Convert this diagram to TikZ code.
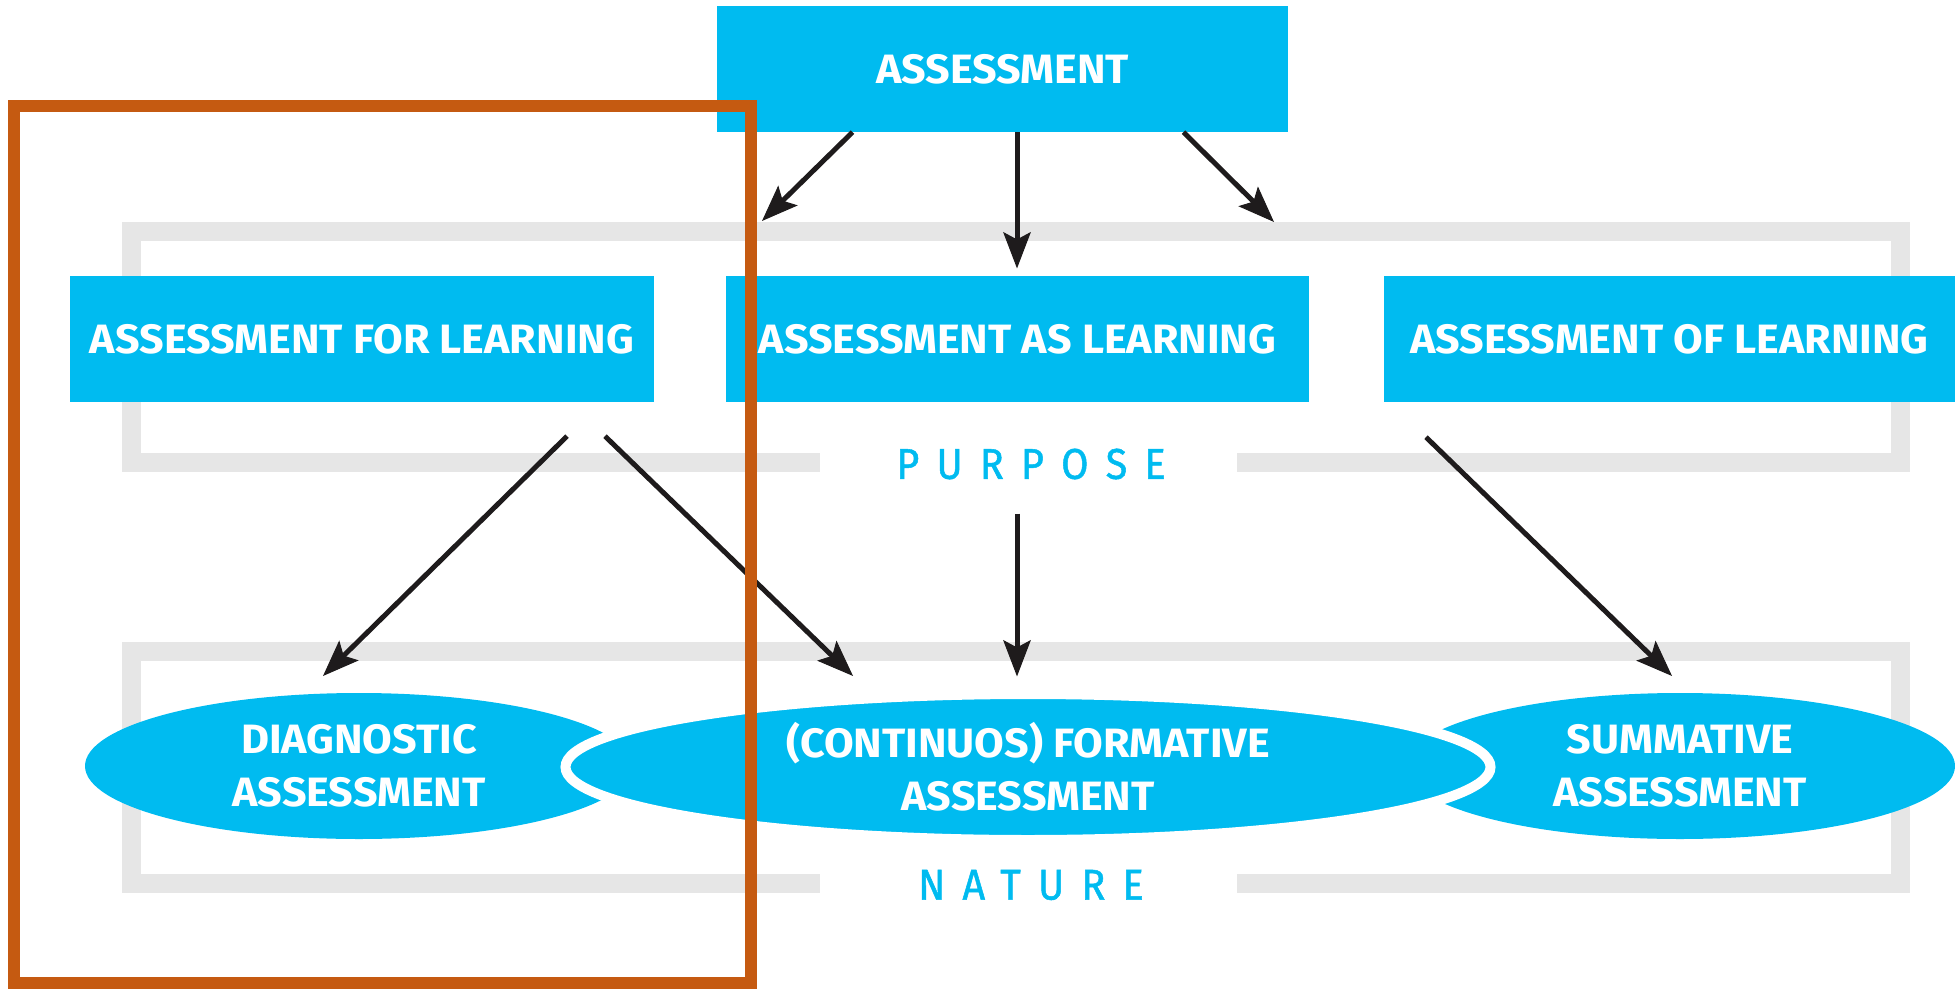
\documentclass[tikz,border=0pt]{standalone}
\usepackage{fontspec}
\setmainfont{Fira Sans}
\newfontfamily\boxfont[FakeStretch=1.05]{Fira Sans Bold}
\newfontfamily\tagfont[LetterSpace=40,FakeBold=1.2,FakeStretch=0.92]{Fira Sans}
\usetikzlibrary{shapes.geometric,calc}
\definecolor{skyblue}{RGB}{0,187,240}
\definecolor{framegray}{RGB}{230,230,230}
\definecolor{rust}{RGB}{197,90,17}
\definecolor{ink}{RGB}{30,27,28}
\tikzset{
  bluebox/.style={rectangle, fill=skyblue, inner sep=0pt, text=white,
    font=\boxfont\fontsize{41}{53}\selectfont, align=center},
  blueoval/.style={ellipse, fill=skyblue, inner sep=0pt, text=white,
    font=\boxfont\fontsize{41}{53}\selectfont, align=center},
  tagtext/.style={text=skyblue, font=\tagfont\fontsize{43}{50}\selectfont, inner sep=0pt},
  framestroke/.style={draw=framegray, line width=19pt},
  shaft/.style={draw=ink, line width=5pt},
}
% connector from #1 to #2 with a filled stealth-like head at #2
\newcommand\connto[2]{%
  \path ($(#2)!34pt!(#1)$) coordinate (hb) ($(#2)!27pt!(#1)$) coordinate (hi);
  \draw[shaft] (#1) -- (hi);
  \filldraw[ink, line width=1pt, line join=miter] (#2) -- ($(hb)!13pt!90:(#2)$) -- (hi) -- ($(hb)!13pt!-90:(#2)$) -- cycle;
}
\begin{document}
\begin{tikzpicture}[x=1pt, y=1pt]
\useasboundingbox (0,0) rectangle (1955,-990);

% grey frames, each open at the bottom around its caption
\draw[framestroke] (820,-462) -- (131.5,-462) -- (131.5,-231.5) -- (1900.5,-231.5) -- (1900.5,-462) -- (1237,-462);
\draw[framestroke] (820,-883.5) -- (131.5,-883.5) -- (131.5,-651.5) -- (1900.5,-651.5) -- (1900.5,-883.5) -- (1237,-883.5);

% top and purpose boxes
\node[bluebox, minimum width=571pt, minimum height=126pt] (top) at (1002.5,-69) {ASSESSMENT};
\node[bluebox, minimum width=584pt, minimum height=126pt] (afl) at (362,-339) {ASSESSMENT FOR LEARNING};
\node[bluebox, minimum width=583pt, minimum height=126pt] (aal) at (1017.5,-339) {ASSESSMENT AS LEARNING};
\node[bluebox, minimum width=571pt, minimum height=126pt] (aol) at (1669.5,-339) {ASSESSMENT OF LEARNING};

% captions
\node[tagtext] (purpose) at (1031,-464) {PURPOSE};
\node[tagtext] (nature) at (1031,-885) {NATURE};

% nature ovals
\node[blueoval, minimum width=548pt, minimum height=146pt] (diag) at (359,-766) {DIAGNOSTIC\\ASSESSMENT};
\node[blueoval, minimum width=550pt, minimum height=146pt] (summ) at (1680,-766) {SUMMATIVE\\ASSESSMENT};
\node[blueoval, draw=white, line width=10pt, minimum width=925pt, minimum height=146pt] (form) at (1028,-767) {(CONTINUOS) FORMATIVE\\ASSESSMENT};

% connector start points, just below their source boxes
\coordinate (s1) at ($(top.south)+(-150,0)$);
\coordinate (s2) at ($(top.south)+(14.5,0)$);
\coordinate (s3) at ($(top.south)+(181,0)$);
\coordinate (s4) at ($(afl.south)+(205,-34)$);
\coordinate (s5) at ($(afl.south)+(243,-34)$);
\coordinate (s6) at ($(purpose.south)+(-14,-34)$);
\coordinate (s7) at ($(aol.south)+(-243.5,-35)$);

% connector tips
\coordinate (t1) at (763,-220);
\coordinate (t2) at (1017,-267);
\coordinate (t3) at (1273,-221);
\coordinate (n1) at (324,-675);
\coordinate (n2) at (852,-675);
\coordinate (n3) at (1017,-675);
\coordinate (n4) at (1671,-675);

\connto{s1}{t1}
\connto{s2}{t2}
\connto{s3}{t3}
\connto{s4}{n1}
\connto{s5}{n2}
\connto{s6}{n3}
\connto{s7}{n4}

% highlight frame
\draw[draw=rust, line width=12pt] (14,-106) rectangle (751,-983);
\end{tikzpicture}
\end{document}
